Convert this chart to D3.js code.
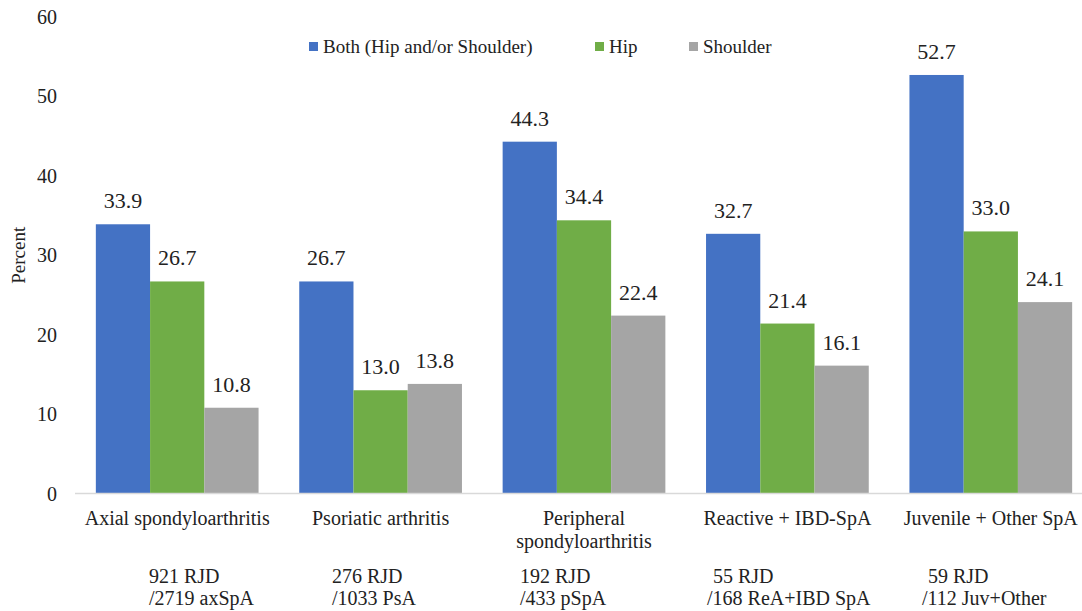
<!DOCTYPE html>
<html>
<head>
<meta charset="utf-8">
<script src="https://cdn.jsdelivr.net/npm/d3@7.9.0/dist/d3.min.js"></script>
<style>
  body { margin: 0; background: #fff; }
</style>
</head>
<body>
<div id="chart"></div>
<script>
// ---------- DATA ----------
const categories = ["Axial spondyloarthritis", "Psoriatic arthritis", "Peripheral spondyloarthritis", "Reactive + IBD-SpA", "Juvenile + Other SpA"];
const categoryLines = [["Axial spondyloarthritis"], ["Psoriatic arthritis"], ["Peripheral", "spondyloarthritis"], ["Reactive + IBD-SpA"], ["Juvenile + Other SpA"]];
const subLabels = [["921 RJD", "/2719 axSpA"], ["276 RJD", "/1033 PsA"], ["192 RJD", "/433 pSpA"], ["55 RJD", "/168 ReA+IBD SpA"], ["59 RJD", "/112 Juv+Other"]];
const seriesNames = ["Both (Hip and/or Shoulder)", "Hip", "Shoulder"];
const both = [33.9, 26.7, 44.3, 32.7, 52.7];
const hip = [26.7, 13.0, 34.4, 21.4, 33.0];
const shoulder = [10.8, 13.8, 22.4, 16.1, 24.1];
const yTicks = [0, 10, 20, 30, 40, 50, 60];
const colors = ["#4472C4", "#70AD47", "#A5A5A5"];

const seriesValues = [both, hip, shoulder];

// ---------- LAYOUT ----------
const FONT = "'Liberation Serif', 'Times New Roman', 'DejaVu Serif', serif";
const width = 1082, height = 611;
const svg = d3.select("#chart").append("svg")
  .attr("width", width).attr("height", height)
  .style("display", "block");

const x0 = d3.scaleBand().domain(categories).range([75.5, 1092.5])
  .paddingInner(0.2).paddingOuter(0.1);
const x1 = d3.scaleBand().domain(seriesNames).range([0, x0.bandwidth()]);
const y = d3.scaleLinear().domain([0, 60]).range([493.5, 17]);

function txt(sel) {
  return sel.append("text").attr("font-family", FONT).attr("fill", "#222");
}

// Y AXIS LABELS
svg.append("g").selectAll("text")
  .data(yTicks).join("text")
  .attr("font-family", FONT).attr("fill", "#222")
  .attr("x", 57).attr("y", d => y(d))
  .attr("dy", "0.35em").attr("text-anchor", "end")
  .attr("font-size", 20)
  .text(d => d);

txt(svg)
  .attr("transform", `translate(25,${y(30)}) rotate(-90)`)
  .attr("text-anchor", "middle").attr("font-size", 19)
  .text("Percent");

// BARS
const groups = svg.append("g").selectAll("g")
  .data(categories).join("g")
  .attr("transform", d => `translate(${x0(d)},0)`);

groups.each(function(cat, ci) {
  const g = d3.select(this);
  seriesNames.forEach((s, si) => {
    const v = seriesValues[si][ci];
    g.append("rect")
      .attr("x", x1(s)).attr("y", y(v))
      .attr("width", x1.bandwidth()).attr("height", y(0) - y(v))
      .attr("fill", colors[si]);
    txt(g)
      .attr("x", x1(s) + x1.bandwidth() / 2).attr("y", y(v) - 16)
      .attr("text-anchor", "middle").attr("font-size", 22)
      .text(v.toFixed(1));
  });
});

// BASELINE
svg.append("line")
  .attr("x1", 75).attr("x2", width)
  .attr("y1", y(0)).attr("y2", y(0))
  .attr("stroke", "#d9d9d9").attr("stroke-width", 1.5);

// CATEGORY LABELS (sub labels sit a little off-centre, as in the original)
const subX = [149, 332, 520, 707, 922];
categories.forEach((c, i) => {
  const cx = x0(c) + x0.bandwidth() / 2;
  categoryLines[i].forEach((line, li) => {
    txt(svg)
      .attr("x", cx).attr("y", 525 + li * 23)
      .attr("text-anchor", "middle").attr("font-size", 20)
      .text(line);
  });
  subLabels[i].forEach((line, li) => {
    txt(svg)
      .attr("x", subX[i] + (li === 0 && i > 2 ? 6 : 0)).attr("y", 583 + li * 22)
      .attr("text-anchor", "start").attr("font-size", 20)
      .text(line);
  });
});

// LEGEND
const legendX = [309, 595, 689];
const legend = svg.append("g");
seriesNames.forEach((s, i) => {
  legend.append("rect")
    .attr("x", legendX[i]).attr("y", 42)
    .attr("width", 9).attr("height", 9).attr("fill", colors[i]);
  txt(legend)
    .attr("x", legendX[i] + 14).attr("y", 46).attr("dy", "0.35em")
    .attr("font-size", 19)
    .text(s);
});
</script>
</body>
</html>
